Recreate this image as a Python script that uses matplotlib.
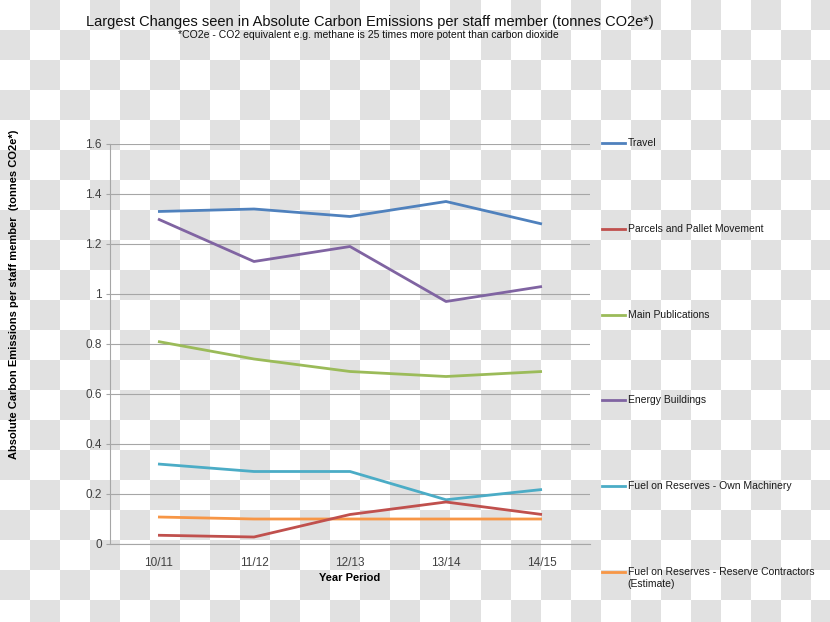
import numpy as np
import matplotlib
matplotlib.use("Agg")
import matplotlib.pyplot as plt
from matplotlib.colors import ListedColormap
from matplotlib.lines import Line2D

plt.rcParams['font.family'] = ['Liberation Sans', 'DejaVu Sans']

# Data
periods = ["10/11", "11/12", "12/13", "13/14", "14/15"]
travel = [1.33, 1.34, 1.31, 1.37, 1.28]
parcels = [0.035, 0.028, 0.118, 0.168, 0.118]
publications = [0.81, 0.74, 0.69, 0.67, 0.69]
energy = [1.30, 1.13, 1.19, 0.97, 1.03]
own_machinery = [0.32, 0.29, 0.29, 0.177, 0.218]
contractors = [0.108, 0.10, 0.10, 0.10, 0.10]

names = ["Travel", "Parcels and Pallet Movement", "Main Publications",
         "Energy Buildings", "Fuel on Reserves - Own Machinery",
         "Fuel on Reserves - Reserve Contractors\n(Estimate)"]
colors = ["#4F81BD", "#C0504D", "#9BBB59", "#8064A2", "#4BACC6", "#F79646"]
series = [travel, parcels, publications, energy, own_machinery, contractors]

W, H = 830, 622
fig = plt.figure(figsize=(W / 100, H / 100), dpi=100)

# checkerboard background (as in the reference image)
bg = fig.add_axes([0, 0, 1, 1], zorder=-10)
rows, cols = 21, 28
board = (np.add.outer(np.arange(rows), np.arange(cols)) % 2)
bg.imshow(board, cmap=ListedColormap(["white", "#e1e1e1"]),
          extent=(0, cols * 30, rows * 30, 0), aspect="auto",
          interpolation="nearest")
bg.set_xlim(0, W)
bg.set_ylim(H, 0)
bg.axis("off")

# main axes
ax = fig.add_axes([110 / W, 1 - 544 / H, 480 / W, 400 / H])
ax.set_facecolor("none")
x = np.arange(len(periods))
order = [3, 0, 2, 4, 5, 1]
for i in order:
    ax.plot(x, series[i], color=colors[i], lw=2, solid_capstyle="butt")

ax.set_xlim(-0.5, len(periods) - 0.5)
ax.set_ylim(0, 1.6)
ax.set_yticks(np.arange(0, 1.61, 0.2))
ax.set_yticklabels(["0", "0.2", "0.4", "0.6", "0.8", "1", "1.2", "1.4", "1.6"])
ax.set_xticks(x)
ax.set_xticklabels(periods)
ax.grid(axis="y", color="#a6a6a6", lw=0.8)
ax.set_axisbelow(True)
for s in ["top", "right"]:
    ax.spines[s].set_visible(False)
ax.spines["left"].set_color("#a6a6a6")
ax.spines["bottom"].set_color("#a6a6a6")
ax.tick_params(axis="y", length=3, color="#a6a6a6", labelsize=8.5,
               labelcolor="#404040", pad=3)
ax.tick_params(axis="x", length=0, labelsize=8.5, labelcolor="#404040", pad=9)
ax.set_xlabel("Year Period", fontsize=8, fontweight="bold", labelpad=3)

fig.text(14 / W, 1 - 294 / H,
         "Absolute Carbon Emissions per staff member  (tonnes CO2e*)",
         rotation=90, ha="center", va="center", fontsize=8, fontweight="bold")

fig.text(370 / W, 1 - 22 / H,
         "Largest Changes seen in Absolute Carbon Emissions per staff member (tonnes CO2e*)",
         ha="center", va="center", fontsize=10.5, color="#111111")
fig.text(368 / W, 1 - 35 / H,
         "*CO2e - CO2 equivalent e.g. methane is 25 times more potent than carbon dioxide",
         ha="center", va="center", fontsize=7.5, color="#111111")

# legend, drawn by hand to follow the spacing of the original
for i, (name, c) in enumerate(zip(names, colors)):
    y = 1 - (143 + 85.8 * i) / H
    fig.add_artist(Line2D([602 / W, 625 / W], [y, y], color=c, lw=2,
                          transform=fig.transFigure))
    multi = "\n" in name
    fig.text(627.5 / W, y + (5 / H if multi else 0), name, ha="left",
             va="top" if multi else "center",
             fontsize=7.5, color="#1a1a1a", linespacing=1.3,
             transform=fig.transFigure)

fig.savefig("out.png", dpi=100)
